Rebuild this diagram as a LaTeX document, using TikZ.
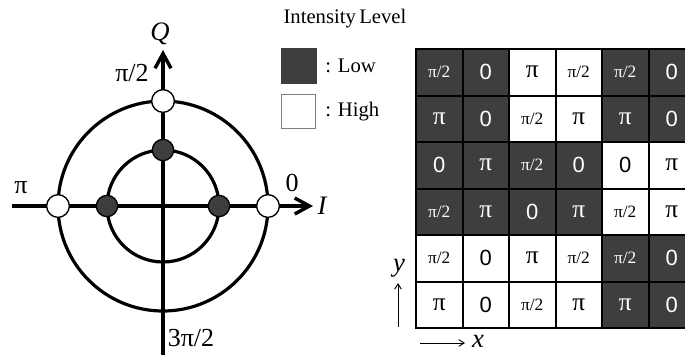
\documentclass[tikz,border=0pt]{standalone}
\usepackage{fontspec}
\setmainfont{Liberation Serif}
\newfontfamily\arialf{Liberation Sans}
\usetikzlibrary{arrows.meta}
\definecolor{darkcell}{HTML}{3E3E3E}
\newcommand\gz{{\arialf\fontsize{16.5}{18}\selectfont 0}}
\newcommand\gp{{\fontsize{19}{20}\selectfont π}}
\newcommand\gh{{\fontsize{13}{15}\selectfont π/2}}
\begin{document}
\begin{tikzpicture}[x=0.75pt,y=-0.75pt,
  axis/.style={line width=2.6pt,-{Straight Barb[length=11pt,width=12pt,line width=2.6pt]}},
  thinarrow/.style={line width=0.7pt,-{Straight Barb[length=4pt,width=5pt,line width=0.7pt]}},
  ring/.style={line width=2.4pt},
  hidot/.style={circle,draw,line width=1pt,fill=white,minimum size=17pt,inner sep=0},
  lodot/.style={circle,draw,line width=1pt,fill=darkcell,minimum size=16pt,inner sep=0},
  lbl/.style={inner sep=0,font=\fontsize{19.5}{22}\selectfont},
  axlbl/.style={inner sep=0,font=\fontsize{20}{22}\selectfont\itshape},
  legtxt/.style={inner sep=0,anchor=west,font=\fontsize{15.5}{18}\selectfont},
  cell/.style={draw=black,line width=1.5pt,minimum width=34.875pt,minimum height=34.875pt,inner sep=0},
  dk/.style={cell,fill=darkcell,text=white},
  wt/.style={cell,fill=white,text=black}]
\useasboundingbox (0,0) rectangle (685,354);
\clip (0,0) rectangle (685,354);
% constellation
\coordinate (o) at (163,206);
\coordinate (qb) at (163,356);
\coordinate (qt) at (163,50);
\coordinate (il) at (12,206);
\coordinate (ir) at (313,206);
\draw[ring] (o) circle[radius=78.75pt];
\draw[ring] (o) circle[radius=42pt];
\draw[axis] (qb) -- (qt);
\draw[axis] (il) -- (ir);
\node[hidot] (h1) at (58,206) {};
\node[hidot] (h2) at (268,206) {};
\node[hidot] (h3) at (163,101) {};
\node[lodot] (l1) at (107,206) {};
\node[lodot] (l2) at (219,206) {};
\node[lodot] (l3) at (163,150) {};
\node[axlbl] (Q) at (160,34) {Q};
\node[axlbl] (I) at (322,206) {I};
\node[lbl] (p90) at (132,73) {π/2};
\node[lbl] (p0) at (292,183) {0};
\node[lbl] (p180) at (21,188) {π};
\node[lbl] (p270) at (191,338) {3π/2};
% legend
\node[inner sep=0,font=\fontsize{15.5}{18}\selectfont] (title) at (345,19) {Intensity\,Level};
\node[draw=darkcell,fill=darkcell,minimum size=26pt,inner sep=0] (lowbox) at (298.5,65.5) {};
\node[draw=gray,line width=0.7pt,fill=white,minimum size=25pt,inner sep=0] (highbox) at (298.5,111.5) {};
\node[legtxt] (lowtxt) at (325,66) {: Low};
\node[legtxt] (hightxt) at (325,112) {: High};
% grid
\foreach \c/\r/\s/\t in {
 1/1/dk/\gh,2/1/dk/\gz,3/1/wt/\gp,4/1/wt/\gh,5/1/dk/\gh,6/1/dk/\gz,
 1/2/dk/\gp,2/2/dk/\gz,3/2/wt/\gh,4/2/wt/\gp,5/2/dk/\gp,6/2/dk/\gz,
 1/3/dk/\gz,2/3/dk/\gp,3/3/dk/\gh,4/3/dk/\gz,5/3/wt/\gz,6/3/wt/\gp,
 1/4/dk/\gh,2/4/dk/\gp,3/4/dk/\gz,4/4/dk/\gp,5/4/wt/\gh,6/4/wt/\gp,
 1/5/wt/\gh,2/5/wt/\gz,3/5/wt/\gp,4/5/wt/\gh,5/5/dk/\gh,6/5/dk/\gz,
 1/6/wt/\gp,2/6/wt/\gz,3/6/wt/\gh,4/6/wt/\gp,5/6/dk/\gp,6/6/dk/\gz}
 \node[\s] (c-\c-\r) at ({416+46.5*(\c-0.5)},{49+46.5*(\r-0.5)}) {\t};
% xy arrows
\coordinate (ya) at (398,327);
\coordinate (yb) at (398,283);
\coordinate (xa) at (420,343);
\coordinate (xb) at (465,343);
\draw[thinarrow] (ya) -- (yb);
\draw[thinarrow] (xa) -- (xb);
\node[axlbl] (ylab) at (399,268) {y};
\node[axlbl] (xlab) at (478,341) {x};
\end{tikzpicture}
\end{document}
